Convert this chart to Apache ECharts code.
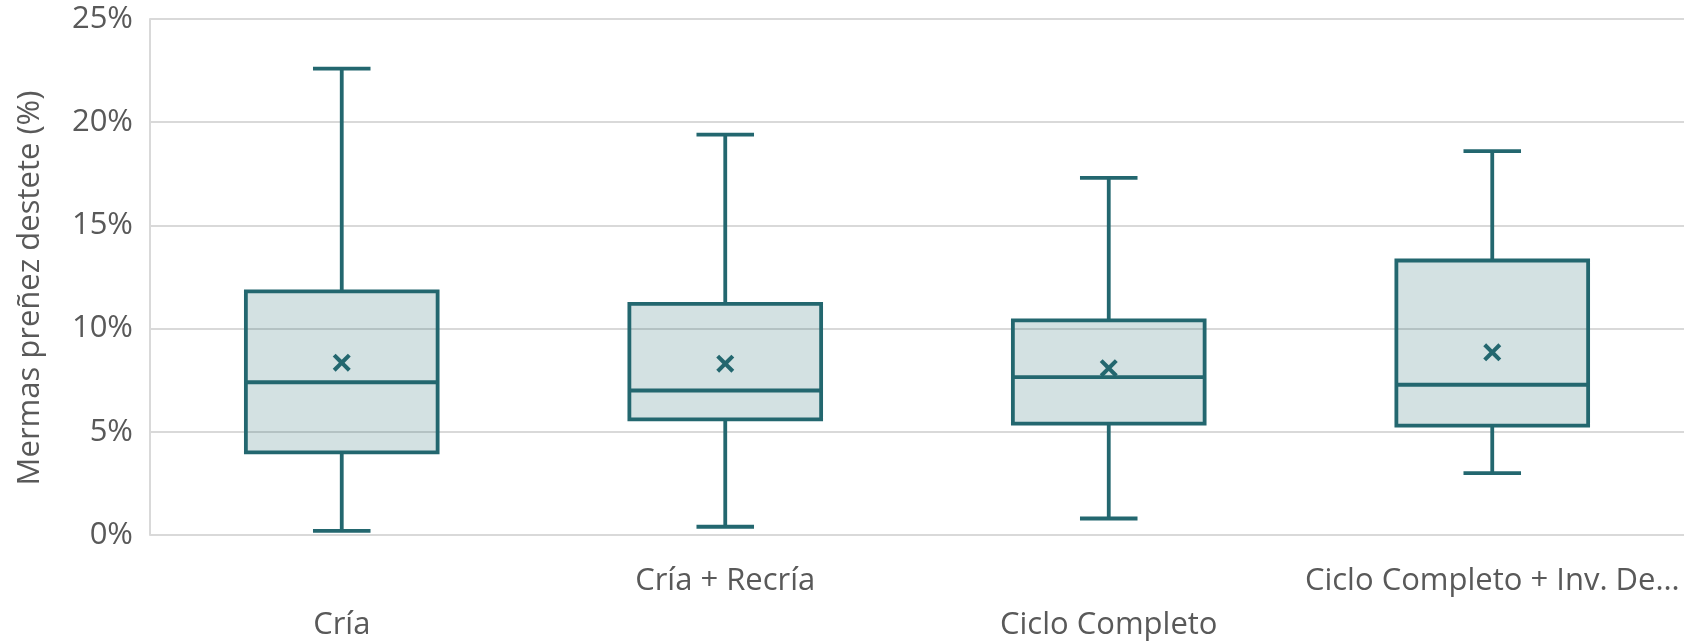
<!DOCTYPE html>
<html>
<head>
<meta charset="utf-8">
<script src="https://cdn.jsdelivr.net/npm/echarts@6/dist/echarts.min.js"></script>
<style>
html,body{margin:0;padding:0;background:#fff;}
#chart{width:1703px;height:643px;}
</style>
</head>
<body>
<div id="chart"></div>
<script>
// Data (percent values)
const categories = ['Cría', 'Cría + Recría', 'Ciclo Completo', 'Ciclo Completo + Inv. De…'];
const minValues    = [0.2, 0.4, 0.8, 3.0];
const q1Values     = [4.0, 5.6, 5.4, 5.3];
const medianValues = [7.4, 7.0, 7.65, 7.28];
const q3Values     = [11.8, 11.2, 10.4, 13.3];
const maxValues    = [22.6, 19.4, 17.3, 18.6];
const meanValues   = [8.35, 8.3, 8.08, 8.85];
const yTicks = [0, 5, 10, 15, 20, 25];

const STROKE = '#23676F';
const FILL = 'rgba(35,103,111,0.2)';
const TEXT = '#595959';
const FONT = '"Open Sans", sans-serif';

const boxData = categories.map((c, i) => [i, minValues[i], q1Values[i], medianValues[i], q3Values[i], maxValues[i]]);
const meanData = categories.map((c, i) => [i, meanValues[i]]);

function renderBox(params, api) {
  const idx = api.value(0);
  const band = api.size([1, 0])[0];
  const cx = api.coord([idx, 0])[0];
  const yMin = api.coord([idx, api.value(1)])[1];
  const yQ1 = api.coord([idx, api.value(2)])[1];
  const yMed = api.coord([idx, api.value(3)])[1];
  const yQ3 = api.coord([idx, api.value(4)])[1];
  const yMax = api.coord([idx, api.value(5)])[1];
  const bw = band * 0.5;
  const cw = band * 0.15;
  const lw = 3.8;
  const ls = {stroke: STROKE, lineWidth: lw, fill: null};
  return {
    type: 'group',
    children: [
      {type: 'line', shape: {x1: cx, y1: yMin, x2: cx, y2: yQ1}, style: ls},
      {type: 'line', shape: {x1: cx, y1: yQ3, x2: cx, y2: yMax}, style: ls},
      {type: 'line', shape: {x1: cx - cw / 2, y1: yMin, x2: cx + cw / 2, y2: yMin}, style: ls},
      {type: 'line', shape: {x1: cx - cw / 2, y1: yMax, x2: cx + cw / 2, y2: yMax}, style: ls},
      {type: 'rect', shape: {x: cx - bw / 2, y: yQ3, width: bw, height: yQ1 - yQ3}, style: {fill: FILL, stroke: STROKE, lineWidth: lw}},
      {type: 'line', shape: {x1: cx - bw / 2, y1: yMed, x2: cx + bw / 2, y2: yMed}, style: ls}
    ]
  };
}

const chart = echarts.init(document.getElementById('chart'), null, {renderer: 'canvas'});
chart.setOption({
  animation: false,
  backgroundColor: '#fff',
  grid: {left: 150, right: 19, top: 19, bottom: 108, containLabel: false, outerBoundsMode: 'none'},
  xAxis: {
    type: 'category',
    data: categories,
    axisLine: {show: false},
    axisTick: {show: false},
    splitLine: {show: false},
    axisLabel: {
      interval: 0,
      color: TEXT,
      fontFamily: FONT,
      fontSize: 31,
      lineHeight: 44,
      margin: 24,
      formatter: function (v, i) { return i % 2 === 0 ? '\n' + v : v; }
    }
  },
  yAxis: {
    type: 'value',
    min: 0, max: 25, interval: 5,
    name: 'Mermas preñez destete (%)',
    nameLocation: 'middle',
    nameGap: 104,
    nameTextStyle: {color: TEXT, fontFamily: FONT, fontSize: 31, padding: [0, 22, 0, 0]},
    axisLine: {show: true, lineStyle: {color: '#D9D9D9', width: 2}},
    axisTick: {show: false},
    splitLine: {show: true, lineStyle: {color: '#D9D9D9', width: 2}},
    axisLabel: {
      color: TEXT, fontFamily: FONT, fontSize: 31, margin: 17,
      formatter: function (v) { return yTicks.indexOf(v) >= 0 ? v + '%' : ''; }
    }
  },
  series: [
    {
      type: 'custom',
      renderItem: renderBox,
      data: boxData,
      encode: {x: 0, y: [1, 2, 3, 4, 5]},
      z: 2
    },
    {
      type: 'scatter',
      data: meanData,
      symbol: 'path://M0,3.2 L3.2,0 L10,6.8 L16.8,0 L20,3.2 L13.2,10 L20,16.8 L16.8,20 L10,13.2 L3.2,20 L0,16.8 L6.8,10 Z',
      symbolSize: 18,
      itemStyle: {color: STROKE, opacity: 1},
      z: 3
    }
  ]
});
</script>
</body>
</html>
